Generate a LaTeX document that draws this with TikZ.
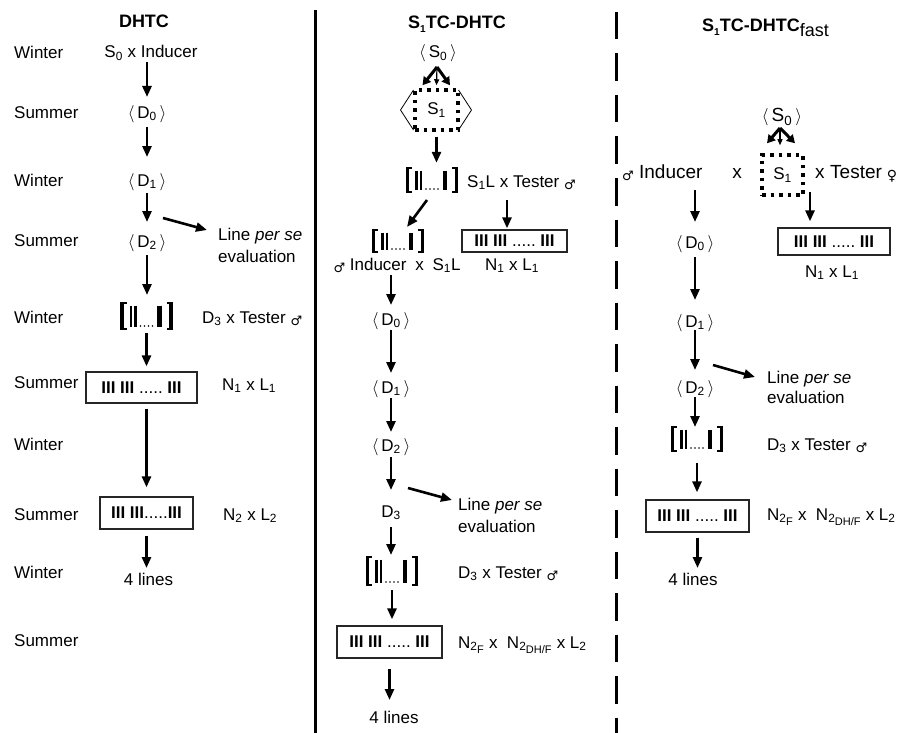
\documentclass[tikz,border=0pt]{standalone}
\usepackage{fontspec}
\setmainfont{Liberation Sans}
\newfontfamily\symf{DejaVu Sans}
\usetikzlibrary{arrows.meta,calc}
\newcommand\malesym{{\symf\fontsize{13}{13}\selectfont\raisebox{-2.5pt}{♂}}}
\newcommand\femsym{{\symf\fontsize{14}{14}\selectfont\raisebox{-2.5pt}{♀}}}
\newcommand\angd[1]{$\langle$\,#1\,$\rangle$}
\newcommand\sbs[1]{\textsubscript{#1}}
\newcommand\ssb[1]{\raisebox{-3pt}{\fontsize{11}{11}\selectfont #1}}
\newcommand\bc{\textbf{III}}
\newcommand\ttlsub[1]{\raisebox{-4pt}{\fontsize{10}{10}\selectfont #1}}
\newcommand\fastsub{\raisebox{-5pt}{\mdseries\fontsize{18}{18}\selectfont fast}}
\newcommand\brsym[4]{%
  \node[brkbox, minimum height=#4pt] (#1) at (#2,#3) {};
  \pgfmathsetmacro\hh{#4/2}%
  \begin{scope}[shift={(#1.center)}]
    \draw[line width=3.2pt] (-24.5,-\hh) -- (-24.5,\hh);
    \draw[line width=2pt] (-26,-\hh+1) -- (-20,-\hh+1) (-26,\hh-1) -- (-20,\hh-1);
    \draw[line width=2.3pt] (-15.5,-\hh+3.5) -- (-15.5,\hh-3) (-11,-\hh+3.5) -- (-11,\hh-3);
    \foreach \dx in {-6,-2,2,6} \fill (\dx,\hh-4) circle (0.9);
    \draw[line width=4.5pt] (13,-\hh+3.5) -- (13,\hh-3);
    \draw[line width=3.2pt] (24.5,-\hh) -- (24.5,\hh);
    \draw[line width=2pt] (26,-\hh+1) -- (20,-\hh+1) (26,\hh-1) -- (20,\hh-1);
  \end{scope}}
\begin{document}
\begin{tikzpicture}[x=1pt,y=-1pt,
  txt/.style={font=\fontsize{17}{20}\selectfont, inner sep=0pt},
  bigtxt/.style={font=\fontsize{19}{22}\selectfont, inner sep=0pt},
  ttl/.style={font=\fontsize{18}{22}\selectfont\bfseries, inner sep=0pt},
  bcbox/.style={draw=black!85, line width=1.3pt, inner sep=0pt, font=\fontsize{17}{20}\selectfont},
  dotbox/.style={draw, line width=3.5pt, dash pattern=on 3.5pt off 5pt, inner sep=0pt, font=\fontsize{17}{20}\selectfont},
  brkbox/.style={minimum width=54pt, inner sep=0pt},
  arr/.style={line width=2.6pt, -{Triangle[length=11pt,width=9pt]}},
  fatarr/.style={line width=3pt, -{Triangle[length=8pt,width=9pt]}},
  thinarr/.style={line width=1.2pt, -{Triangle[length=6pt,width=5pt]}},
  sh/.style 2 args={shorten <=#1pt, shorten >=#2pt},
  angline/.style={line width=0.8pt}]
\fill[white] (0,0) rectangle (899,733);
\useasboundingbox (0,0) rectangle (899,733);

% dividers
\draw[line width=3pt] (315,10) -- (315,733);
\draw[line width=3pt, dash pattern=on 27.5pt off 14pt] (616,12) -- (616,733);

% season labels
\node[txt, anchor=base west] (s1) at (14,58.3) {Winter};
\node[txt, anchor=base west] (s2) at (14,118.3) {Summer};
\node[txt, anchor=base west] (s3) at (14,186.7) {Winter};
\node[txt, anchor=base west] (s4) at (14,246.7) {Summer};
\node[txt, anchor=base west] (s5) at (14,323.3) {Winter};
\node[txt, anchor=base west] (s6) at (14,388.3) {Summer};
\node[txt, anchor=base west] (s7) at (14,450) {Winter};
\node[txt, anchor=base west] (s8) at (14,520) {Summer};
\node[txt, anchor=base west] (s9) at (14,578.3) {Winter};
\node[txt, anchor=base west] (s10) at (14,646.7) {Summer};

% ---------- left column: DHTC
\node[ttl, anchor=base] (tl) at (144,28) {DHTC};
\node[txt, anchor=base] (ls0) at (151,58) {S\sbs{0} x Inducer};
\node[txt, anchor=base] (ld0) at (147,118) {\angd{D\sbs{0}}};
\node[txt, anchor=base] (ld1) at (147,186) {\angd{D\sbs{1}}};
\node[txt, anchor=base] (ld2) at (147,247) {\angd{D\sbs{2}}};
\node[txt, anchor=base west] (llps) at (218,240) {Line \textit{per se}};
\node[txt, anchor=base west] (llev) at (218,262) {evaluation};
\brsym{lbr}{146.5}{316}{28}
\node[txt, anchor=base west] (ltest) at (202,323) {D\sbs{3} x Tester \malesym};
\node[bcbox, minimum width=111pt, minimum height=31pt] (ln1) at (141.5,387.5) {\bc\ \bc\ .....\ \bc};
\node[txt, anchor=base west] (ln1l) at (222,390) {N\sbs{1} x L\sbs{1}};
\node[bcbox, minimum width=93pt, minimum height=32pt] (ln2) at (146.5,513) {\bc\ \bc.....\bc};
\node[txt, anchor=base west] (ln2l) at (223,520) {N\sbs{2} x L\sbs{2}};
\node[txt, anchor=base] (l4) at (148.5,585) {4 lines};

\draw[arr, sh={4}{21}] (ls0.base -| ld0.base) -- (ld0.base);
\draw[arr, sh={9}{29}] (ld0.base) -- (ld1.base);
\draw[arr, sh={7}{25}] (ld1.base) -- (ld2.base);
\draw[arr, sh={8}{21}] (ld2.base) -- (ld2.base |- lbr.center);
\draw[arr] ($(ld2.base)+(16,-29)$) -- ($(llps.base west)+(-11,-10)$);
\draw[arr, sh={17}{5}] (lbr.center) -- (lbr.center |- ln1.north);
\draw[arr, sh={5}{9}] (ln1.south -| ln2.north) -- (ln2.north);
\draw[arr, sh={6}{17}] (ln2.south) -- (ln2.south |- l4.base);

% ---------- middle column: S1TC-DHTC
\node[ttl, anchor=base] (tm) at (457,29) {S\ttlsub{1}TC-DHTC};
\node[txt, anchor=base] (ms0) at (438,58) {\angd{S\sbs{0}}};
\node[dotbox, minimum width=43pt, minimum height=40pt] (ms1) at (436.5,110) {S\sbs{1}};
\draw[angline] ($(ms1.center)+(-23,-20)$) -- ++(-13,20) -- ++(13,20);
\draw[angline] ($(ms1.center)+(22,-20)$) -- ++(13,20) -- ++(-13,20);
\coordinate (ms0b) at ($(ms0.base)+(-1,9)$);
\draw[fatarr] (ms0b) -- ($(ms1.north)+(-14,-3)$);
\draw[thinarr] (ms0b) -- ($(ms1.north)+(0,-3)$);
\draw[fatarr] (ms0b) -- ($(ms1.north)+(13.5,-3)$);

\brsym{mb1}{432}{180}{26}
\node[txt, anchor=base west] (mtest) at (467,187) {S\sbs{1}L x Tester \malesym};
\draw[arr, sh={5}{4}] (ms1.south) -- (ms1.south |- mb1.north);

\brsym{mb2}{398}{241}{24}
\node[bcbox, minimum width=105pt, minimum height=22pt] (mn1) at (514.5,241) {\bc\ \bc\ .....\ \bc};
\coordinate (mtx) at ($(mtest.base west)+(40,0)$);
\draw[arr, sh={13}{1}] (mtx) -- (mtx |- mn1.north);
\draw[arr] ($(mb1.center)+(-5,20)$) -- ($(mb2.center)+(9,-14)$);

\node[txt, anchor=base] (mind) at (397,270) {\malesym\ Inducer\hspace{4pt} x\hspace{4pt} S\sbs{1}L};
\node[txt, anchor=base] (mn1l) at (512,270) {N\sbs{1} x L\sbs{1}};
\node[txt, anchor=base] (md0) at (391,325) {\angd{D\sbs{0}}};
\node[txt, anchor=base] (md1) at (391,393) {\angd{D\sbs{1}}};
\node[txt, anchor=base] (md2) at (391,451) {\angd{D\sbs{2}}};
\node[txt, anchor=base] (md3) at (391,517) {D\sbs{3}};
\node[txt, anchor=base west] (mlps) at (458,510) {Line \textit{per se}};
\node[txt, anchor=base west] (mlev) at (458,532) {evaluation};
\brsym{mb3}{392}{571}{30}
\node[txt, anchor=base west] (mtest2) at (458,578) {D\sbs{3} x Tester \malesym};
\node[bcbox, minimum width=105pt, minimum height=32pt] (mn2) at (389.5,642) {\bc\ \bc\ .....\ \bc};
\node[txt, anchor=base west] (mn2l) at (458,648) {N\sbs{2\ssb{F}} x\ \ N\sbs{2\ssb{DH/F}} x L\sbs{2}};
\node[txt, anchor=base] (m4) at (394,723) {4 lines};

\draw[arr, sh={5}{20}] (mind.base -| md0.base) -- (md0.base);
\draw[arr, sh={5}{20}] (md0.base) -- (md1.base);
\draw[arr, sh={5}{19}] (md1.base) -- (md2.base);
\draw[arr, sh={6}{27}] (md2.base) -- (md3.base);
\draw[arr] ($(md2.base)+(17,37)$) -- ($(mlps.base west)+(-6,-10)$);
\draw[arr, sh={10}{16}] (md3.base) -- (md3.base |- mb3.center);
\draw[arr, sh={19}{6}] (mb3.center) -- (mb3.center |- mn2.north);
\draw[arr, sh={10}{23}] (mn2.south) -- (mn2.south |- m4.base);

% ---------- right column: S1TC-DHTC fast
\node[ttl, anchor=base west] (tr) at (702,32) {S\ttlsub{1}TC-DHTC\fastsub};
\node[bigtxt, anchor=base] (rs0) at (782,122) {\angd{S\sbs{0}}};
\node[dotbox, minimum width=41pt, minimum height=40pt] (rs1) at (782.5,175) {S\sbs{1}};
\coordinate (rs0b) at ($(rs0.base)+(-2,6)$);
\draw[fatarr] (rs0b) -- ($(rs1.north)+(-15.5,-10)$);
\draw[thinarr] (rs0b) -- ($(rs1.north)+(-2.5,-8)$);
\draw[fatarr] (rs0b) -- ($(rs1.north)+(12.5,-10)$);

\node[bigtxt, anchor=base west] (rind) at (622,178) {\malesym\ Inducer\hspace{30pt}x};
\node[bigtxt, anchor=base west] (rtest) at (815,178) {x\hspace{5.5pt}Tester\hspace{5pt}\femsym};
\node[txt, anchor=base] (rd0) at (695,248) {\angd{D\sbs{0}}};
\node[txt, anchor=base] (rd1) at (695,327) {\angd{D\sbs{1}}};
\node[txt, anchor=base] (rd2) at (695,393) {\angd{D\sbs{2}}};
\node[bcbox, minimum width=112pt, minimum height=27pt] (rn1) at (834,241.5) {\bc\ \bc\ .....\ \bc};
\node[txt, anchor=base] (rn1l) at (832,277) {N\sbs{1} x L\sbs{1}};
\node[txt, anchor=base west] (rlps) at (767,383) {Line \textit{per se}};
\node[txt, anchor=base west] (rlev) at (767,403) {evaluation};
\brsym{rb}{697}{439}{26}
\node[txt, anchor=base west] (rtest2) at (767,450) {D\sbs{3} x Tester \malesym};
\node[bcbox, minimum width=103pt, minimum height=32pt] (rn2) at (697.5,516) {\bc\ \bc\ .....\ \bc};
\node[txt, anchor=base west] (rn2l) at (767,520) {N\sbs{2\ssb{F}} x\ \ N\sbs{2\ssb{DH/F}} x L\sbs{2}};
\node[txt, anchor=base] (r4) at (693,585) {4 lines};

\draw[arr, sh={12}{26}] (rind.base -| rd0.base) -- (rd0.base);
\coordinate (rtx) at ($(rtest.base west)+(-5,0)$);
\draw[arr, sh={14}{6}] (rtx) -- (rtx |- rn1.north);
\draw[arr, sh={9}{27}] (rd0.base) -- (rd1.base);
\draw[arr, sh={3}{23}] (rd1.base) -- (rd2.base);
\draw[arr] ($(rd2.base)+(18,-28)$) -- ($(rlps.base west)+(-12,-6)$);
\draw[arr, sh={4}{12}] (rd2.base) -- (rd2.base |- rb.center);
\draw[arr, sh={24}{7}] (rb.center) -- (rb.center |- rn2.north);
\draw[arr, sh={5}{17}] (rn2.south) -- (rn2.south |- r4.base);
\end{tikzpicture}
\end{document}
